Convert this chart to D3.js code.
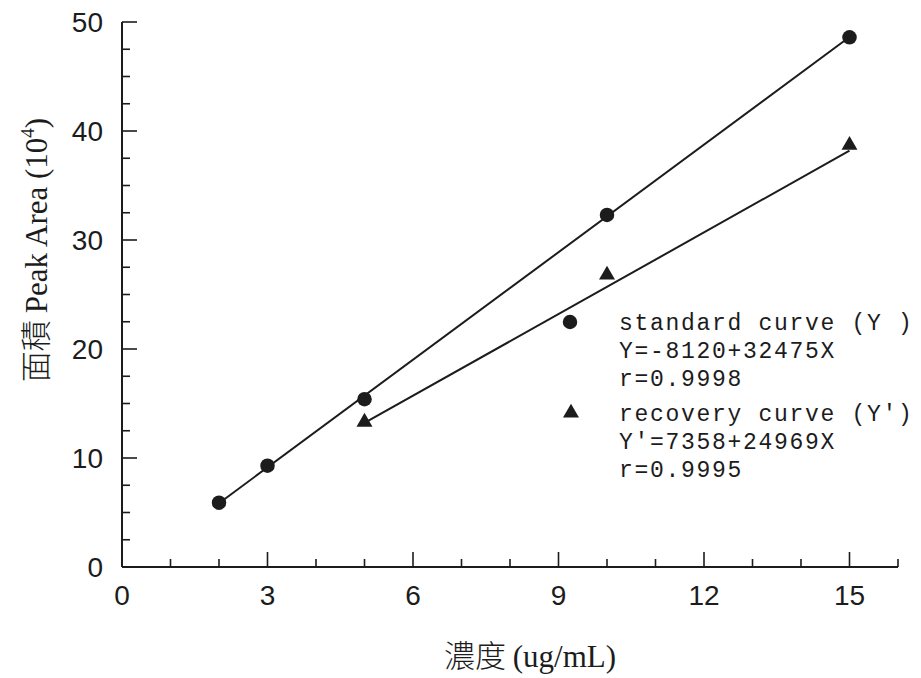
<!DOCTYPE html>
<html><head><meta charset="utf-8">
<script src="https://cdn.jsdelivr.net/npm/d3@7"></script>
<style>body{margin:0;background:#fff}</style>
</head><body>
<svg id="c" width="921" height="678"></svg>
<script>
// data
const stdX = [2, 3, 5, 10, 15];
const stdY = [5.9, 9.3, 15.4, 32.3, 48.6];
const recX = [5, 10, 15];
const recY = [13.3, 26.8, 38.7];
// stated fit for the recovery curve (units of 10^4): intercept, slope
const recFit = [0.7358, 2.4969];
const xTicks = [0, 3, 6, 9, 12, 15];
const yTicks = [0, 10, 20, 30, 40, 50];
const legendLines = [
  "standard curve (Y )", "Y=-8120+32475X", "r=0.9998",
  "recovery curve (Y')", "Y'=7358+24969X", "r=0.9995"
];

const ink = "#1c1c1c";
const svg = d3.select("#c");
const x = d3.scaleLinear().domain([0, 16]).range([122, 898]);
const y = d3.scaleLinear().domain([0, 50]).range([567, 22]);

// axes lines
svg.append("line").attr("x1", x(0)).attr("x2", x(16)).attr("y1", y(0)).attr("y2", y(0))
  .attr("stroke", ink).attr("stroke-width", 2);
svg.append("line").attr("x1", x(0)).attr("x2", x(0)).attr("y1", y(0)).attr("y2", y(50))
  .attr("stroke", ink).attr("stroke-width", 2);

// y ticks
const yAll = d3.range(0, 50.01, 2.5);
svg.append("g").selectAll("line").data(yAll).join("line")
  .attr("x1", x(0)).attr("x2", d => x(0) + (d % 10 === 0 ? 15 : 8))
  .attr("y1", d => y(d)).attr("y2", d => y(d))
  .attr("stroke", ink).attr("stroke-width", 1.6);
svg.append("g").selectAll("text").data(yTicks).join("text")
  .attr("x", 103).attr("y", d => y(d)).attr("dy", "0.36em")
  .attr("text-anchor", "end").attr("font-family", "Liberation Sans, Arial, sans-serif")
  .attr("font-size", 28).attr("fill", ink).text(d => d);

// x ticks
const xAll = d3.range(1, 16.01, 1);
svg.append("g").selectAll("line").data(xAll).join("line")
  .attr("x1", d => x(d)).attr("x2", d => x(d))
  .attr("y1", y(0)).attr("y2", d => y(0) - (d % 3 === 0 && d < 16 ? 15 : 8))
  .attr("stroke", ink).attr("stroke-width", 1.6);
svg.append("g").selectAll("text").data(xTicks).join("text")
  .attr("x", d => x(d)).attr("y", 595).attr("dy", "0.36em")
  .attr("text-anchor", "middle").attr("font-family", "Liberation Sans, Arial, sans-serif")
  .attr("font-size", 28).attr("fill", ink).text(d => d);

// axis titles
svg.append("text").attr("x", 530).attr("y", 667)
  .attr("text-anchor", "middle").attr("font-family", "Liberation Serif, serif")
  .attr("font-size", 31).attr("fill", ink)
  .call(t => {
    t.append("tspan").attr("font-family", "'Noto Sans CJK TC'").attr("font-weight", 300).text("濃度 ");
    t.append("tspan").text("(ug/mL)");
  });
svg.append("text").attr("transform", "translate(47,250) rotate(-90)")
  .attr("text-anchor", "middle").attr("font-family", "Liberation Serif, serif")
  .attr("font-size", 31).attr("fill", ink)
  .call(t => {
    t.append("tspan").attr("font-family", "'Noto Sans CJK TC'").attr("font-weight", 300).text("面積 ");
    t.append("tspan").text(" Peak Area (10");
    t.append("tspan").attr("font-size", 19).attr("dy", -13).text("4");
    t.append("tspan").attr("dy", 13).text(")");
  });

// lines
function drawLine(xs, b0, b1) {
  const x0 = d3.min(xs), x1 = d3.max(xs);
  svg.append("line")
    .attr("x1", x(x0)).attr("y1", y(b0 + b1 * x0))
    .attr("x2", x(x1)).attr("y2", y(b0 + b1 * x1))
    .attr("stroke", ink).attr("stroke-width", 2);
}
// least-squares line through the standard points
const mx = d3.mean(stdX), my = d3.mean(stdY);
const slope = d3.sum(stdX, (d, i) => (d - mx) * (stdY[i] - my)) / d3.sum(stdX, d => (d - mx) ** 2);
drawLine(stdX, my - slope * mx, slope);
drawLine(recX, recFit[0], recFit[1]);

// markers
const circ = d3.symbol().type(d3.symbolCircle).size(165);
const tri = d3.symbol().type(d3.symbolTriangle).size(110);
svg.append("g").selectAll("path").data(stdX.map((d, i) => [d, stdY[i]])).join("path")
  .attr("d", circ).attr("transform", d => `translate(${x(d[0])},${y(d[1])})`).attr("fill", ink);
svg.append("g").selectAll("path").data(recX.map((d, i) => [d, recY[i]])).join("path")
  .attr("d", tri).attr("transform", d => `translate(${x(d[0])},${y(d[1])})`).attr("fill", ink);

// legend
const ly = [322, 350, 378, 413, 441, 469];
svg.append("path").attr("d", circ).attr("transform", `translate(570,${ly[0]})`).attr("fill", ink);
svg.append("path").attr("d", tri).attr("transform", `translate(571,${ly[3]})`).attr("fill", ink);
svg.append("g").selectAll("text").data(legendLines).join("text")
  .attr("x", 619).attr("y", (d, i) => ly[i]).attr("dy", "0.36em")
  .attr("font-family", "Liberation Mono, 'Courier New', monospace")
  .attr("font-size", 23).attr("letter-spacing", 1.7).attr("fill", ink)
  .attr("xml:space", "preserve").style("white-space", "pre").text(d => d);
</script>
</body></html>
